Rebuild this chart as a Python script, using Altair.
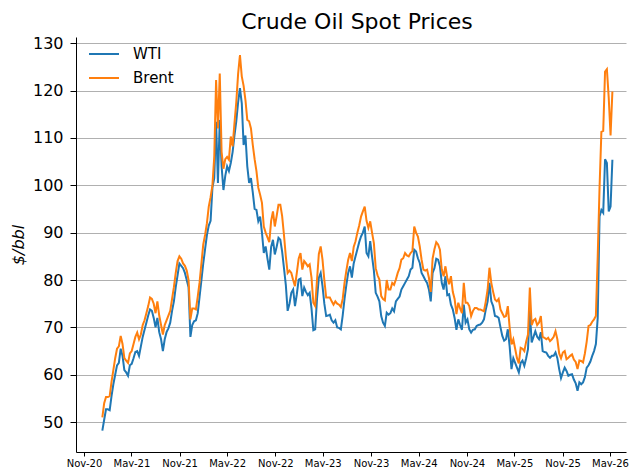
import altair as alt
import pandas as pd

# Weekly spot prices ($/bbl), one value per week from early January 2021
wti_2021 = [48.2, 50.5, 52.7, 52.7, 52.5, 55.5, 58.0, 60.0, 62.0, 62.5, 65.5, 64.0, 61.0, 60.5, 59.8, 62.0, 62.3, 63.5, 64.8, 65.0, 64.0, 66.0, 68.0, 69.5, 71.0, 72.5, 73.8, 73.5, 72.0, 70.0, 72.0, 69.0, 67.5, 65.0, 67.5, 69.0, 69.8, 71.0, 73.5, 75.5, 78.5, 81.0, 83.5, 83.0, 82.5, 81.5, 80.0, 78.5, 68.0, 70.5, 71.3, 71.5, 73.0]
wti_2022 = [76.5, 80.0, 83.5, 86.5, 89.5, 91.5, 92.5, 99.5, 101.5, 113.4, 100.5, 113.8, 104.0, 99.0, 102.0, 104.0, 103.0, 104.7, 107.0, 110.5, 113.5, 117.5, 120.5, 117.3, 108.5, 110.5, 104.0, 100.5, 101.5, 98.5, 95.0, 94.8, 92.4, 93.4, 90.0, 85.7, 87.1, 84.5, 82.2, 87.0, 88.5, 85.4, 87.0, 88.9, 88.5, 86.0, 82.5, 79.0, 73.5, 75.0, 77.3, 78.0]
wti_2023 = [74.5, 77.0, 80.1, 80.3, 76.6, 78.4, 77.5, 76.8, 77.3, 74.0, 69.4, 69.6, 76.0, 80.5, 81.5, 78.7, 75.0, 72.4, 72.5, 72.7, 71.5, 71.0, 71.5, 70.0, 69.9, 69.6, 72.5, 76.0, 79.0, 81.5, 82.9, 80.5, 83.5, 85.0, 86.5, 88.0, 89.2, 90.0, 91.3, 85.7, 85.0, 88.2, 85.0, 82.0, 77.3, 76.5, 75.5, 72.4, 71.0, 70.3, 73.1, 72.7]
wti_2024 = [73.0, 74.0, 73.4, 75.5, 76.0, 76.5, 78.0, 78.7, 79.4, 80.1, 80.8, 82.2, 82.6, 86.4, 86.0, 84.6, 83.6, 81.5, 80.8, 80.0, 79.4, 78.0, 75.5, 81.5, 82.5, 84.5, 84.3, 82.9, 79.4, 78.0, 80.8, 76.8, 77.0, 74.8, 73.8, 72.0, 69.5, 71.7, 70.5, 69.5, 74.8, 71.0, 71.7, 69.6, 68.9, 69.5, 69.6, 70.3, 70.5, 70.6, 71.0, 71.7]
wti_2025 = [73.8, 75.5, 79.4, 75.5, 74.5, 72.4, 72.3, 72.0, 70.0, 68.2, 67.2, 67.5, 69.6, 66.0, 61.2, 63.5, 62.5, 61.5, 60.5, 62.5, 63.0, 61.9, 63.5, 65.4, 73.5, 66.8, 68.0, 69.2, 68.0, 67.5, 69.0, 65.0, 64.8, 64.7, 64.0, 63.6, 64.0, 64.0, 64.7, 63.5, 61.2, 59.3, 60.5, 61.5, 60.8, 59.8, 60.0, 60.1, 59.0, 58.2, 56.6, 58.4]
wti_2026 = [58.0, 58.4, 59.5, 61.5, 62.0, 62.8, 64.0, 65.0, 66.5, 72.0, 93.4, 94.8, 94.2, 105.5, 104.7, 94.5, 95.5, 105.4]

brent_2021 = [51.0, 54.0, 55.3, 55.3, 55.5, 58.5, 61.0, 63.5, 65.5, 66.0, 68.2, 66.5, 63.5, 63.0, 62.5, 64.5, 65.0, 66.5, 68.0, 68.9, 67.5, 68.5, 70.5, 71.5, 73.0, 74.5, 76.3, 76.0, 75.0, 73.0, 75.5, 72.5, 70.5, 68.5, 70.5, 71.5, 72.5, 73.5, 76.0, 78.5, 81.5, 84.0, 85.0, 84.5, 83.5, 83.0, 82.0, 80.0, 71.7, 74.0, 74.0, 73.8, 76.5]
brent_2022 = [79.5, 83.5, 87.5, 89.5, 92.0, 95.5, 97.5, 100.0, 106.0, 122.2, 112.0, 123.6, 107.0, 103.5, 105.5, 106.0, 105.4, 110.3, 108.2, 113.0, 117.5, 123.5, 127.5, 123.0, 121.0, 118.0, 113.8, 113.5, 112.0, 108.5, 105.5, 103.0, 99.5, 98.0, 96.3, 91.3, 90.0, 89.0, 88.0, 92.5, 94.5, 91.3, 93.5, 95.9, 95.9, 93.5, 89.5, 85.0, 81.5, 82.0, 81.5, 80.0]
brent_2023 = [78.7, 81.5, 84.5, 85.7, 82.2, 84.0, 83.5, 82.9, 83.3, 80.5, 75.2, 74.5, 80.0, 85.5, 87.1, 84.3, 80.0, 76.3, 76.3, 76.3, 75.5, 74.8, 75.5, 75.0, 74.8, 74.3, 76.0, 79.4, 82.0, 84.3, 85.7, 84.0, 87.0, 88.2, 90.0, 91.5, 93.4, 94.5, 95.5, 92.5, 91.0, 92.4, 90.0, 87.8, 82.5, 81.0, 80.1, 76.6, 76.0, 75.7, 80.0, 78.0]
brent_2024 = [78.0, 79.4, 79.0, 80.1, 81.5, 82.5, 84.3, 84.6, 85.7, 85.2, 85.0, 85.7, 86.1, 91.3, 90.0, 89.2, 87.1, 84.3, 82.2, 82.0, 82.2, 80.5, 77.5, 84.5, 86.5, 88.0, 87.5, 86.4, 82.2, 80.8, 82.9, 80.5, 79.1, 80.8, 77.5, 76.0, 72.8, 75.2, 74.0, 73.0, 79.4, 75.2, 75.2, 74.5, 72.4, 73.5, 74.1, 74.1, 73.8, 73.8, 73.6, 73.4]
brent_2025 = [75.5, 78.0, 82.6, 79.4, 77.5, 75.9, 75.5, 76.0, 73.8, 73.0, 72.2, 72.4, 74.5, 70.0, 66.4, 67.5, 65.5, 63.5, 62.4, 65.7, 65.5, 65.0, 67.0, 68.5, 78.4, 70.5, 71.5, 71.8, 70.5, 71.0, 72.4, 68.0, 67.8, 67.5, 67.8, 67.1, 67.5, 68.0, 69.2, 67.5, 64.5, 63.5, 64.7, 65.0, 63.3, 63.6, 64.0, 64.3, 63.2, 62.7, 61.2, 63.0]
brent_2026 = [62.9, 62.6, 64.5, 67.0, 70.3, 70.5, 71.2, 71.7, 72.4, 85.0, 99.5, 111.3, 111.5, 124.0, 124.5, 118.5, 110.5, 119.8]

series_names = ["WTI", "Brent"]
series_colors = ["#1f77b4", "#ff7f0e"]
y_ticks = [50, 60, 70, 80, 90, 100, 110, 120, 130]
x_tick_dates = ["2020-11-01", "2021-05-01", "2021-11-01", "2022-05-01", "2022-11-01", "2023-05-01",
                "2023-11-01", "2024-05-01", "2024-11-01", "2025-05-01", "2025-11-01", "2026-05-01"]

wti = wti_2021 + wti_2022 + wti_2023 + wti_2024 + wti_2025 + wti_2026
brent = brent_2021 + brent_2022 + brent_2023 + brent_2024 + brent_2025 + brent_2026
n = len(wti)
dates = list(pd.date_range("2021-01-10", periods=n, freq="7D").strftime("%Y-%m-%d"))

df = pd.DataFrame({
    "date": dates + dates,
    "price": wti + brent,
    "series": ["WTI"] * n + ["Brent"] * n,
})


def ms(s):
    return int(pd.Timestamp(s, tz="UTC").value // 1_000_000)


x_domain = [ms("2020-10-01 12:00"), ms("2026-06-30 22:00")]
x_values = [ms(d) for d in x_tick_dates]

FONT = "DejaVu Sans"

base = alt.Chart(df).mark_line(strokeWidth=2).encode(
    x=alt.X("date:T",
            scale=alt.Scale(type="utc", domain=x_domain, nice=False),
            axis=alt.Axis(values=x_values, format="%b-%y", formatType="time", title=None,
                          grid=False, labelFontSize=10, labelFont=FONT, labelColor="black",
                          tickSize=4, tickColor="black", labelPadding=2, domainColor="black",
                          labelFlush=False, labelOverlap=False)),
    y=alt.Y("price:Q",
            scale=alt.Scale(domain=[43.7, 131.3], nice=False, zero=False),
            axis=alt.Axis(values=y_ticks, title="$/bbl", titleFontStyle="italic",
                          titleFontWeight="normal", titleFontSize=16, titleFont=FONT,
                          titleColor="black", titlePadding=6,
                          labelFontSize=16, labelFont=FONT, labelColor="black",
                          tickSize=6, tickColor="black", labelPadding=7,
                          domainColor="black", grid=True, gridColor="#b0b0b0",
                          gridWidth=1)),
    color=alt.Color("series:N",
                    scale=alt.Scale(domain=series_names, range=series_colors),
                    legend=alt.Legend(orient="none", legendX=12, legendY=1, title=None,
                                      symbolType="stroke", symbolSize=900,
                                      symbolStrokeWidth=2, labelFontSize=15,
                                      labelFont=FONT, labelColor="black",
                                      labelOffset=13, rowPadding=-8, padding=0)),
)

wti_layer = base.transform_filter(alt.datum.series == "WTI")
brent_layer = base.transform_filter(alt.datum.series == "Brent")

chart = alt.layer(wti_layer, brent_layer).properties(
    width=550,
    height=415,
    title=alt.TitleParams("Crude Oil Spot Prices", fontSize=22, font=FONT,
                          fontWeight="normal", color="black", offset=1, dx=6),
    padding={"left": 68, "top": 29, "right": 6, "bottom": 15},
    autosize=alt.AutoSizeParams(type="none"),
).configure_view(stroke=None)

chart.save("out.html", embed_options={"renderer": "svg", "actions": False})
